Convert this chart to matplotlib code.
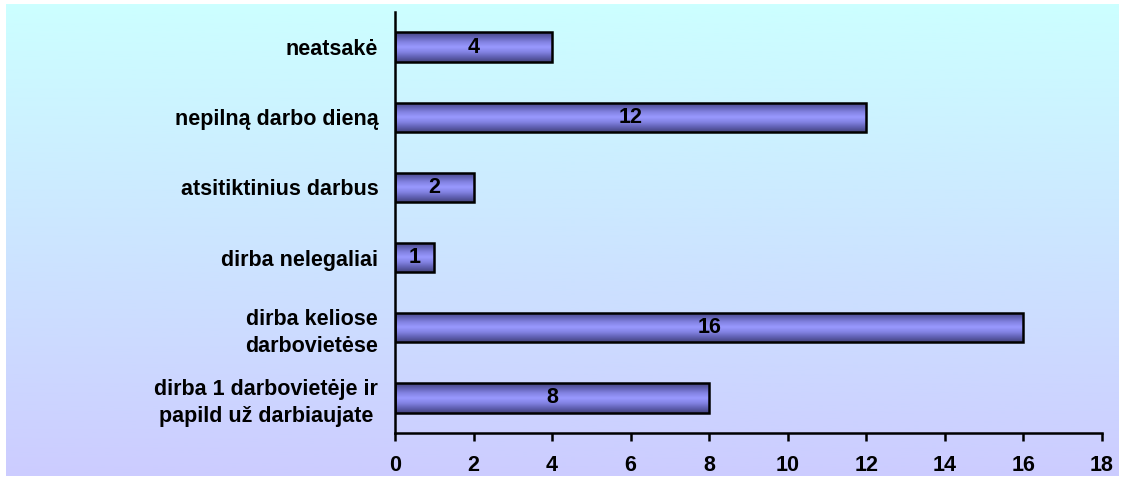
import matplotlib.pyplot as plt
import numpy as np
from matplotlib.colors import LinearSegmentedColormap

kategorijos = ["dirba 1 darbovietėje ir\npapild už darbiaujate",
               "dirba keliose\ndarbovietėse",
               "dirba nelegaliai",
               "atsitiktinius darbus",
               "nepilną darbo dieną",
               "neatsakė"]
reiksmes = [8, 16, 1, 2, 12, 4]
x_ticks = [0, 2, 4, 6, 8, 10, 12, 14, 16, 18]

plt.rcParams['font.family'] = ['Liberation Sans', 'DejaVu Sans']
plt.rcParams['font.weight'] = 'bold'
fs = 15.5

fig = plt.figure(figsize=(11.25, 4.82), dpi=100)

# fonas su gradientu
bg = fig.add_axes([6/1125, 6/482, 1113/1125, 472/482], zorder=0)
fonas = LinearSegmentedColormap.from_list("fonas", ["#CCCCFF", "#CCFFFF"])
bg.imshow(np.linspace(0, 1, 256).reshape(-1, 1), aspect='auto', cmap=fonas,
          origin='lower', extent=[0, 1, 0, 1])
bg.axis('off')

ax = fig.add_axes([395/1125, 49/482, 707/1125, 421/482], zorder=1)
ax.patch.set_alpha(0)

juosta = LinearSegmentedColormap.from_list(
    "juosta", ["#44447F", "#6262B5", "#8383E3", "#9999FF", "#8383E3", "#6262B5", "#44447F"])
grad = np.linspace(0, 1, 64).reshape(-1, 1)

y = np.arange(len(kategorijos))
aukstis = 0.42
bars = ax.barh(y, reiksmes, height=aukstis, color='none', edgecolor='black',
               linewidth=1.8, zorder=3)
for b, v in zip(bars, reiksmes):
    x0, y0 = b.get_x(), b.get_y()
    im = ax.imshow(grad, aspect='auto', cmap=juosta, origin='lower',
                   extent=[x0, x0 + b.get_width(), y0, y0 + b.get_height()], zorder=2)
    im.set_clip_path(b)
    ax.text(v / 2, b.get_y() + b.get_height() / 2, str(v), ha='center', va='center',
            fontsize=fs, fontweight='bold', zorder=4)

ax.set_xlim(0, 18)
ax.set_ylim(-0.5, len(kategorijos) - 0.5)
ax.set_xticks(x_ticks)
ax.set_xticklabels([str(t) for t in x_ticks], fontsize=fs, fontweight='bold')
ax.set_yticks(y)
ax.set_yticklabels(kategorijos, fontsize=fs, fontweight='bold',
                   multialignment='center', linespacing=1.35)
ax.tick_params(axis='y', length=0, pad=12)
ax.tick_params(axis='x', length=6, width=1.8, direction='out', pad=10)
for s in ['top', 'right']:
    ax.spines[s].set_visible(False)
for s in ['left', 'bottom']:
    ax.spines[s].set_linewidth(1.8)

fig.savefig("out.png", dpi=100)
